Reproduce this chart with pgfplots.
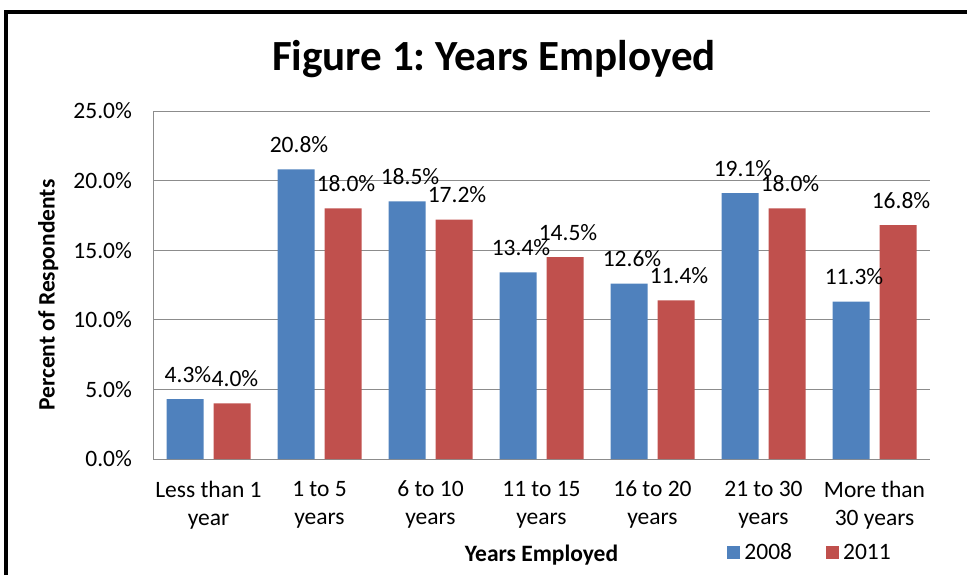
\documentclass[border=0pt]{standalone}
\usepackage{pgfplots}
\pgfplotsset{compat=1.18}
\usepackage{fontspec}
\setmainfont{Carlito}
\frenchspacing
\definecolor{b08}{HTML}{4F81BD}
\definecolor{r11}{HTML}{C0504D}
\definecolor{gridgray}{HTML}{8C8C8C}
\pgfplotsset{sqlegend/.style={legend image code/.code={\fill[##1] (0pt,-3.25pt) rectangle (6.5pt,3.25pt);}}}
\begin{document}
\begin{tikzpicture}[x=0.5pt,y=0.5pt]
\useasboundingbox (0,0) rectangle (967,575);
\draw[line width=2pt] (6,0) -- (6,563.5) -- (967,563.5);
\node[font=\fontsize{21.5}{26}\selectfont\bfseries, anchor=base] at (494,505) {Figure 1: Years Employed};
\begin{axis}[
  at={(76.5pt,58pt)}, anchor=south west,
  width=388.5pt, height=174pt, scale only axis,
  /pgf/number format/assume math mode=true,
  ybar=5pt, bar width=18.5pt,
  xmin=-0.5, xmax=6.5, ymin=0, ymax=25,
  ytick={0,5,10,15,20,25},
  yticklabel={\pgfmathprintnumber[fixed,fixed zerofill,precision=1]{\tick}\%},
  xtick={0,1,2,3,4,5,6},
  xticklabels={{Less than 1\\year},{1 to 5\\years},{6 to 10\\years},{11 to 15\\years},{16 to 20\\years},{21 to 30\\years},{More than\\30 years}},
  xticklabel style={align=center, anchor=north, yshift=-7.5pt},
  yticklabel style={xshift=-7pt},
  ticklabel style={font=\fontsize{11.75}{14}\selectfont},
  major tick length=0pt,
  axis x line*=bottom, axis y line*=left,
  axis line style={draw=gridgray, -},
  ymajorgrids, grid style={draw=gridgray, line width=0.5pt},
  ylabel={Percent of Respondents},
  ylabel style={font=\fontsize{11.75}{14}\selectfont\bfseries, at={(axis description cs:-0.135,0.471)}, anchor=center},
  xlabel={Years Employed},
  xlabel style={font=\fontsize{11.75}{14}\selectfont\bfseries, at={(axis description cs:0.5,0)}, anchor=base, yshift=-51pt},
  nodes near coords={\pgfmathprintnumber[fixed,fixed zerofill,precision=1]{\pgfplotspointmeta}\%},
  every node near coord/.append style={font=\fontsize{11.75}{14}\selectfont, anchor=base, yshift=8.5pt, xshift=1.5pt},
  legend columns=2,
  legend style={at={(axis description cs:0.847,-0.270)}, anchor=center, draw=none, fill=none,
    font=\fontsize{11.75}{14}\selectfont,
    nodes={inner xsep=2pt},
    /tikz/every even column/.append style={column sep=15pt}},
]
\addplot[fill=b08, draw=none, sqlegend] coordinates {(0,4.3) (1,20.8) (2,18.5) (3,13.4) (4,12.6) (5,19.1) (6,11.3)};
\addplot[fill=r11, draw=none, sqlegend] coordinates {(0,4.0) (1,18.0) (2,17.2) (3,14.5) (4,11.4) (5,18.0) (6,16.8)};
\legend{2008,2011}
\end{axis}
\end{tikzpicture}
\end{document}
